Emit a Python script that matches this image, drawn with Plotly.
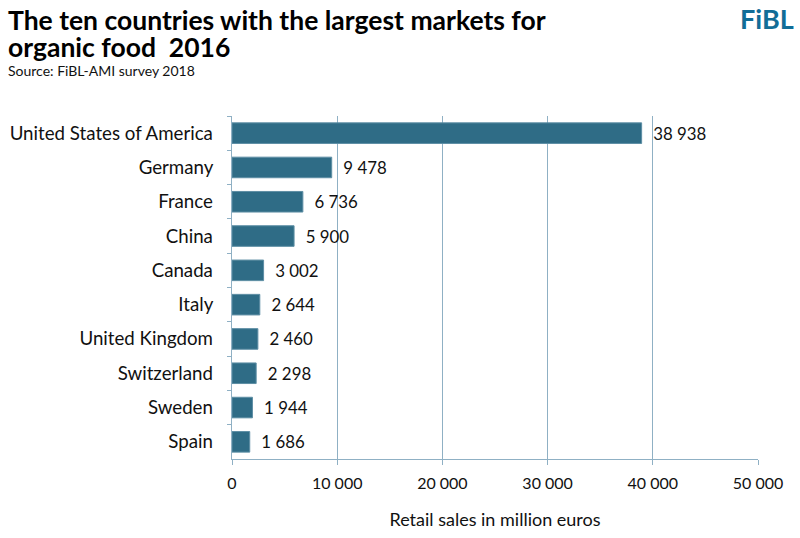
import plotly.graph_objects as go

countries = ["United States of America", "Germany", "France", "China", "Canada",
             "Italy", "United Kingdom", "Switzerland", "Sweden", "Spain"]
sales = [38938, 9478, 6736, 5900, 3002, 2644, 2460, 2298, 1944, 1686]
x_ticks = [0, 10000, 20000, 30000, 40000, 50000]

FONT = "Lato, Noto Sans, sans-serif"
BAR = "#2f6c86"
GRID = "#8fb0c4"

fig = go.Figure(go.Bar(
    x=sales, y=countries, orientation="h",
    marker=dict(color=BAR, line=dict(color="#5d8ea4", width=1)),
    text=sales, texttemplate="\u00a0\u00a0%{x:,}", textposition="outside",
    textfont=dict(family=FONT, size=18, color="#111111"),
    cliponaxis=False,
))

fig.update_layout(
    width=800, height=538,
    margin=dict(l=232, r=42, t=116, b=79),
    paper_bgcolor="white", plot_bgcolor="white",
    separators=". ",
    bargap=0.4,
    showlegend=False,
    font=dict(family=FONT, color="#111111"),
    xaxis=dict(
        range=[0, 50000], tickvals=x_ticks, tickformat=",",
        showgrid=True, gridcolor=GRID, gridwidth=1,
        showline=True, linecolor=GRID, linewidth=1,
        ticks="outside", ticklen=5, tickcolor=GRID,
        ticklabelstandoff=5,
        tickfont=dict(size=16, family=FONT, color="#111111"),
        zeroline=False, automargin=False,
        title=dict(text="Retail sales in million euros", standoff=22,
                   font=dict(size=18, family=FONT, color="#111111")),
    ),
    yaxis=dict(
        autorange="reversed", categoryorder="array", categoryarray=countries,
        showline=True, linecolor=GRID, linewidth=1,
        ticks="outside", ticklen=4, tickcolor=GRID, tickson="boundaries",
        tickfont=dict(size=18.7, family=FONT, color="#111111"),
        showgrid=False, ticksuffix="   ", automargin=False,
    ),
)

fig.add_annotation(text="<b>The ten countries with the largest markets for</b>",
                   xref="paper", yref="paper", x=0, y=1, xshift=-226, yshift=114,
                   xanchor="left", yanchor="top", showarrow=False, align="left",
                   font=dict(size=26.5, family=FONT, color="#000000"))
fig.add_annotation(text="<b>organic food  2016</b>",
                   xref="paper", yref="paper", x=0, y=1, xshift=-226, yshift=87,
                   xanchor="left", yanchor="top", showarrow=False, align="left",
                   font=dict(size=26.5, family=FONT, color="#000000"))
fig.add_annotation(text="Source: FiBL-AMI survey 2018",
                   xref="paper", yref="paper", x=0, y=1, xshift=-226, yshift=56,
                   xanchor="left", yanchor="top", showarrow=False, align="left",
                   font=dict(size=14, family=FONT, color="#111111"))
fig.add_annotation(text="<b>FiBL</b>",
                   xref="paper", yref="paper", x=1, y=1, xshift=38, yshift=116,
                   xanchor="right", yanchor="top", showarrow=False,
                   font=dict(size=27, family=FONT, color="#116d97"))

fig.write_html("out.html", config={"displayModeBar": False},
               post_script="document.body.style.margin='0';")
